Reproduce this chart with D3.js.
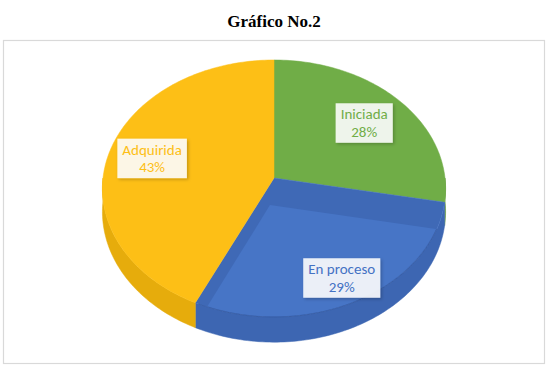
<html>
<script src="https://d3js.org/d3.v7.min.js"></script>
<body style="margin:0;background:#fff;">
<svg id="chart" width="548" height="375"></svg>
<script>
    // data
    const categories = ["Iniciada", "En proceso", "Adquirida"];
    const percents = [28, 29, 43];
    const palette = ["#70AD47", "#4472C4", "#FDBF16"];
    const sidePalette = ["#5E9339", "#3D66B2", "#E6AC0C"];
    const title = "Gráfico No.2";

    let svg = d3.select("#chart");

    // 3D perspective pie settings
    let CX = 274, CY = 178, RX = 171, RY = 127.7, K = 0.082, DEPTH = 23;

    function projXZ(x, z, h) {
        let w = 1 / (1 - K * z);
        return [CX + RX * x * w, CY + RY * z * w + h * w];
    }
    function proj(theta, r, h) {
        return projXZ(r * Math.sin(theta), -r * Math.cos(theta), h);
    }
    function arcPts(a0, a1, r, h) {
        let n = Math.max(2, Math.ceil(Math.abs(a1 - a0) / 0.02));
        return d3.range(n + 1).map(i => proj(a0 + (a1 - a0) * i / n, r, h));
    }
    let line = d3.line();

    let color = d3.scaleOrdinal().domain(categories).range(palette);
    let sideColor = d3.scaleOrdinal().domain(categories).range(sidePalette);

    let pie = d3.pie().sort(null).value(d => d.v);
    let slices = pie(categories.map((c, i) => ({c: c, v: percents[i]})));

    let defs = svg.append("defs");
    defs.append("filter").attr("id", "shadow")
        .attr("x", "-20%").attr("y", "-20%").attr("width", "150%").attr("height", "150%")
        .append("feDropShadow")
        .attr("dx", 1.5).attr("dy", 1.5).attr("stdDeviation", 1.5)
        .attr("flood-color", "#000").attr("flood-opacity", 0.25);

    // title
    svg.append("text")
        .attr("x", 274).attr("y", 27)
        .attr("text-anchor", "middle")
        .style("font-family", "'Liberation Serif', 'Times New Roman', serif")
        .style("font-weight", "bold")
        .style("font-size", "17px")
        .text(title);

    // chart frame
    svg.append("rect")
        .attr("x", 3.5).attr("y", 40.5).attr("width", 541).attr("height", 323)
        .attr("fill", "#fff").attr("stroke", "#D9D9D9").attr("stroke-width", 1.2);

    let g = svg.append("g");

    // side walls (front half only)
    let FRONT0 = Math.PI / 2, FRONT1 = Math.PI * 3 / 2;
    slices.forEach(s => {
        let a0 = Math.max(s.startAngle, FRONT0), a1 = Math.min(s.endAngle, FRONT1);
        if (a1 <= a0) return;
        let top = arcPts(a0, a1, 1, 0);
        let bot = arcPts(a0, a1, 1, DEPTH).reverse();
        g.append("path")
            .attr("d", line(top.concat(bot)) + "Z")
            .attr("fill", sideColor(s.data.c))
            .attr("stroke", sideColor(s.data.c)).attr("stroke-width", 0.5);
    });

    // top faces
    slices.forEach(s => {
        let pts = [proj(0, 0, 0)].concat(arcPts(s.startAngle, s.endAngle, 1, 0));
        g.append("path")
            .attr("d", line(pts) + "Z")
            .attr("fill", s.data.c === "En proceso" ? "#3F69B6" : color(s.data.c))
            .attr("stroke", color(s.data.c)).attr("stroke-width", 0.5);
    });

    // bevel of the blue slice: lighter inner face
    let blue = slices[1];
    let inner = [proj(blue.startAngle + (blue.endAngle - blue.startAngle) * 0.82, 0.21, 0)]
        .concat(arcPts(blue.startAngle + 0.21, blue.endAngle - 0.07, 0.995, 0));
    g.append("path")
        .attr("d", line(inner) + "Z")
        .attr("fill", "#4775C6");
    // rim line of the blue top face
    g.append("path")
        .attr("d", line(arcPts(blue.startAngle + 0.21, blue.endAngle - 0.02, 1, 0)))
        .attr("fill", "none").attr("stroke", "#3559A0").attr("stroke-width", 0.8);

    // data labels
    let labelR = {"Iniciada": 0.71, "En proceso": 0.82, "Adquirida": 0.74};
    slices.forEach(s => {
        let mid = (s.startAngle + s.endAngle) / 2;
        let p = proj(mid, labelR[s.data.c], 0);
        let lg = g.append("g").attr("transform", `translate(${p[0]},${p[1]})`);
        let box = lg.append("rect").attr("fill", "#fff").attr("fill-opacity", 0.88)
            .attr("filter", "url(#shadow)");
        let t = lg.append("text")
            .attr("text-anchor", "middle")
            .style("font-family", "Carlito, Calibri, Lato, sans-serif")
            .style("font-size", "15px")
            .attr("fill", color(s.data.c));
        t.append("tspan").attr("x", 0).attr("y", -3).text(s.data.c);
        t.append("tspan").attr("x", 0).attr("y", 14.5).text(s.data.v + "%");
        let bb = t.node().getBBox();
        box.attr("x", bb.x - 5).attr("y", bb.y - 2)
            .attr("width", bb.width + 10).attr("height", bb.height + 4);
    });
</script>
</body>
</html>
